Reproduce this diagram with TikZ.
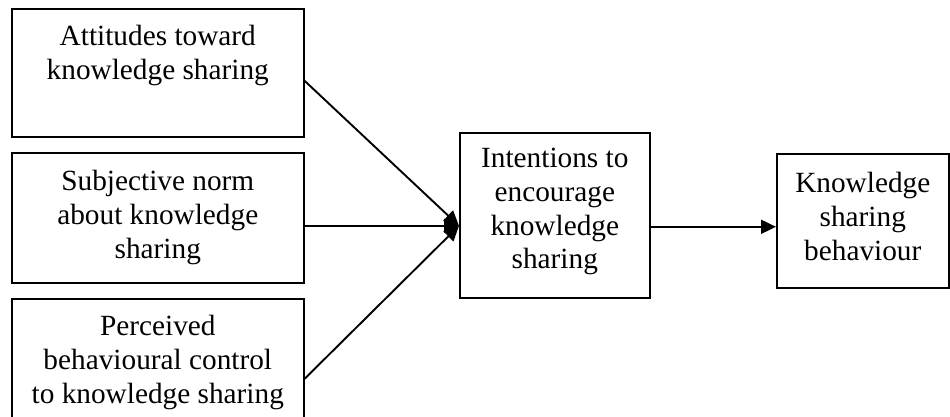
\documentclass[tikz,border=0pt]{standalone}
\usepackage{fontspec}
\setmainfont{Liberation Serif}
\usetikzlibrary{arrows.meta}

% centred lines set in a fixed-size box; #3 is the depth of the first baseline
\newcommand{\blocktext}[4]{%
  \parbox[c][#2][t]{#1}{\centering\rule{0pt}{#3}#4}}

\tikzset{
  x=1pt, y=-1pt,
  block/.style={draw=black, line width=1.6pt, inner sep=0pt, anchor=north west,
    font=\fontsize{29.3}{33.7}\selectfont},
  conn/.style={draw=black, line width=1.9pt,
    -{Triangle[length=15pt,width=14pt]}},
}

\begin{document}
\begin{tikzpicture}
  \clip (0,0) rectangle (950,417);
  \fill[white] (0,0) rectangle (950,417);

  % three antecedents
  \node[block] (att) at (11,8)
    {\blocktext{292pt}{128pt}{37pt}{Attitudes toward\\knowledge sharing}};
  \node[block] (subj) at (11,152)
    {\blocktext{292pt}{130pt}{38pt}{Subjective norm\\about knowledge\\sharing}};
  \node[block] (pbc) at (11,298)
    {\blocktext{292pt}{131pt}{37pt}{Perceived\\behavioural control\\to knowledge sharing}};

  % intention and behaviour
  \node[block] (int) at (459,132)
    {\blocktext{190pt}{165pt}{35pt}{Intentions to\\encourage\\knowledge\\sharing}};
  \node[block] (ksb) at (776,153)
    {\blocktext{172pt}{134pt}{39pt}{Knowledge\\sharing\\behaviour}};

  % connectors
  \draw[conn] ([yshift=-8pt]att.east)   -- ([yshift=-10.5pt]int.west);
  \draw[conn] ([yshift=-8pt]subj.east)  -- ([yshift=-10.5pt]int.west);
  \draw[conn] ([yshift=-14.5pt]pbc.east) -- ([yshift=-10.5pt]int.west);
  \draw[conn] ([yshift=-11.5pt]int.east) -- ([yshift=-6pt]ksb.west);
\end{tikzpicture}
\end{document}
